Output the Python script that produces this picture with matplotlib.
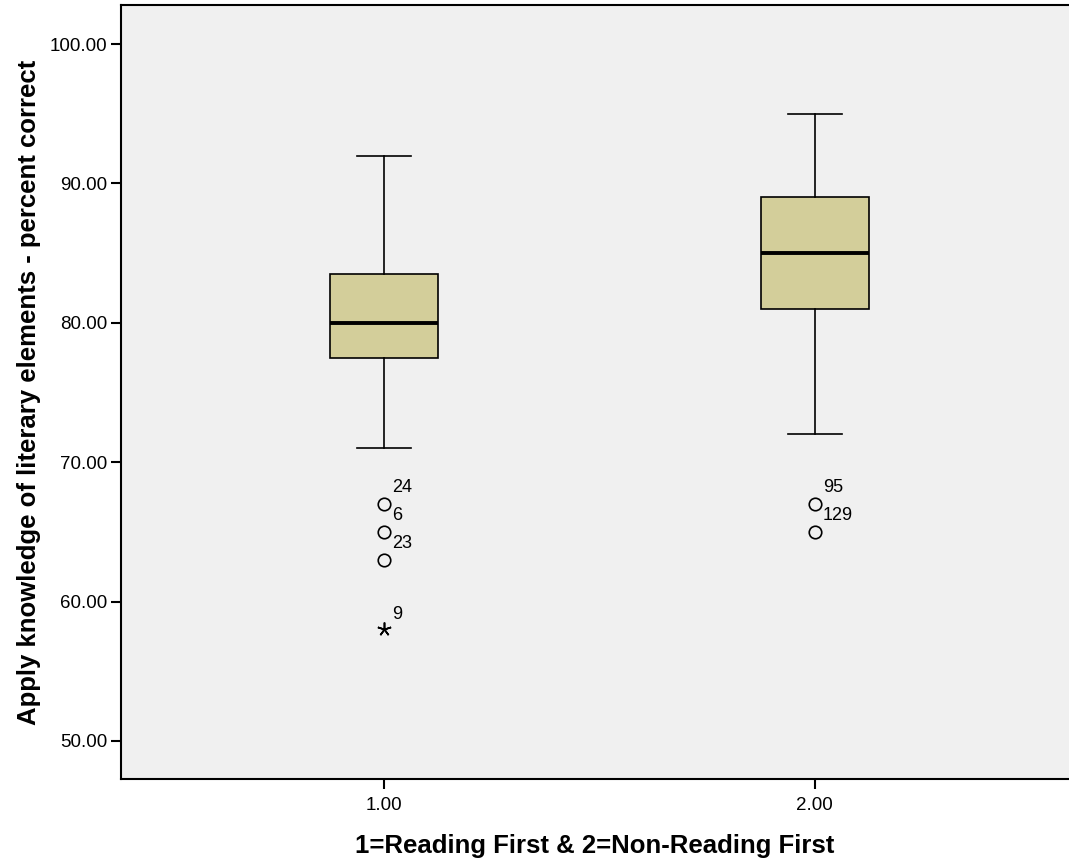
import matplotlib
matplotlib.use("Agg")
import matplotlib.pyplot as plt
import numpy as np

plt.rcParams['font.family'] = ['Liberation Sans', 'DejaVu Sans']

# group positions and tick labels
groups = [1.0, 2.0]
group_labels = ['1.00', '2.00']

# five-number summaries per group
q1 = [77.5, 81.0]
medians = [80.0, 85.0]
q3 = [83.5, 89.0]
whisker_low = [71.0, 72.0]
whisker_high = [92.0, 95.0]

# outliers (circles) and extremes (asterisks) with case numbers
outlier_vals = [[67.0, 65.0, 63.0], [67.0, 65.0]]
outlier_ids = [['24', '6', '23'], ['95', '129']]
extreme_vals = [[58.0], []]
extreme_ids = [['9'], []]

ylabel = 'Apply knowledge of literary elements - percent correct'
xlabel = '1=Reading First & 2=Non-Reading First'
yticks = [50, 60, 70, 80, 90, 100]

fig = plt.figure(figsize=(10.69, 8.63), dpi=100)
ax = fig.add_axes([121 / 1069, 1 - 779 / 863, 1 - 121 / 1069, 774 / 863])
ax.set_facecolor('#f0f0f0')

stats = []
for i in range(len(groups)):
    stats.append(dict(med=medians[i], q1=q1[i], q3=q3[i],
                      whislo=whisker_low[i], whishi=whisker_high[i], fliers=[]))

ax.bxp(stats, positions=groups, widths=0.25, patch_artist=True,
       showfliers=False,
       boxprops=dict(facecolor='#d3ce9a', edgecolor='black', linewidth=1.2),
       medianprops=dict(color='black', linewidth=2.8),
       whiskerprops=dict(color='black', linewidth=1.2),
       capprops=dict(color='black', linewidth=1.2),
       capwidths=0.125)

for i, x in enumerate(groups):
    for v, lab in zip(outlier_vals[i], outlier_ids[i]):
        ax.plot(x, v, 'o', ms=9, mfc='none', mec='black', mew=1.2)
        ax.annotate(lab, (x, v), xytext=(6, 12), textcoords='offset points',
                    ha='left', va='center', fontsize=13)
    for v, lab in zip(extreme_vals[i], extreme_ids[i]):
        ax.plot(x, v, marker=(5, 2, 0), ms=10, color='black', mew=1.2)
        ax.annotate(lab, (x, v), xytext=(6, 11), textcoords='offset points',
                    ha='left', va='center', fontsize=13)

ax.set_xlim(0.39, 2.59)
ax.set_ylim(47.27, 102.8)
ax.set_xticks(groups)
ax.set_xticklabels(group_labels)
ax.set_yticks(yticks)
ax.set_yticklabels(['%.2f' % t for t in yticks])
ax.tick_params(axis='both', direction='out', length=7, width=1.5,
               labelsize=13.5, pad=3)
ax.tick_params(axis='x', pad=6)

for side in ['left', 'bottom', 'top']:
    ax.spines[side].set_linewidth(1.5)
ax.spines['right'].set_visible(False)

ax.set_ylabel(ylabel, fontsize=18.5, fontweight='bold', labelpad=6)
ax.set_xlabel(xlabel, fontsize=18.5, fontweight='bold', labelpad=14)

fig.savefig('out.png', dpi=100, facecolor='white')
